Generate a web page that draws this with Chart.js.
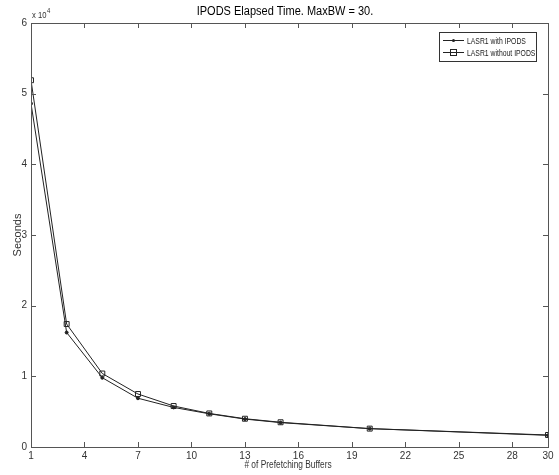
<!DOCTYPE html>
<html>
<head>
<meta charset="utf-8">
<script src="https://cdn.jsdelivr.net/npm/chart.js@4.4.1/dist/chart.umd.min.js"></script>
<style>
  html, body { margin: 0; padding: 0; background: #fff; }
  #wrap { width: 559px; height: 475px; }
</style>
</head>
<body>
<div id="wrap"><canvas id="c" width="559" height="475"></canvas></div>
<script>
// Number of prefetching buffers sampled
const buffers = [1, 3, 5, 7, 9, 11, 13, 15, 20, 30];
// Elapsed time in seconds
const withIpods = [48600, 16200, 9800, 6900, 5600, 4700, 3950, 3450, 2600, 1650];
const withoutIpods = [51900, 17400, 10400, 7500, 5800, 4750, 4000, 3500, 2600, 1700];
// Tick positions
const xTicks = [1, 4, 7, 10, 13, 16, 19, 22, 25, 28, 30];
const yTicks = [0, 10000, 20000, 30000, 40000, 50000, 60000];

const FONT = "'Liberation Sans', Arial, sans-serif";
const AXIS = '#555';
const LINE = '#222';

// Draws text squeezed horizontally to mimic a narrow typeface
function narrowText(ctx, text, x, y, size, squeeze, align, color) {
  ctx.save();
  ctx.font = size + 'px ' + FONT;
  ctx.fillStyle = color;
  ctx.textBaseline = 'middle';
  ctx.textAlign = 'left';
  const w = ctx.measureText(text).width * squeeze;
  let left = x;
  if (align === 'center') left = x - w / 2;
  else if (align === 'right') left = x - w;
  ctx.translate(left, y);
  ctx.scale(squeeze, 1);
  ctx.fillText(text, 0, 0);
  ctx.restore();
}

// Box, inward ticks, title, exponent and legend in the MATLAB style
const framePlugin = {
  id: 'frame',
  afterDraw(chart) {
    const { ctx, chartArea: a, scales: { x, y } } = chart;
    ctx.save();
    ctx.strokeStyle = AXIS;
    ctx.lineWidth = 1;
    ctx.strokeRect(Math.round(a.left) + 0.5, Math.round(a.top) + 0.5,
                   Math.round(a.right - a.left), Math.round(a.bottom - a.top));
    const tl = 5;
    ctx.beginPath();
    xTicks.forEach(v => {
      const px = Math.round(x.getPixelForValue(v)) + 0.5;
      ctx.moveTo(px, a.bottom); ctx.lineTo(px, a.bottom - tl);
      ctx.moveTo(px, a.top); ctx.lineTo(px, a.top + tl);
    });
    yTicks.forEach(v => {
      const py = Math.round(y.getPixelForValue(v)) + 0.5;
      ctx.moveTo(a.left, py); ctx.lineTo(a.left + tl, py);
      ctx.moveTo(a.right, py); ctx.lineTo(a.right - tl, py);
    });
    ctx.stroke();

    // Title
    narrowText(ctx, 'IPODS Elapsed Time. MaxBW = 30.', 285, 12, 12.5, 0.88, 'center', '#000');
    // X axis title
    narrowText(ctx, '# of Prefetching Buffers', 288, 465, 11, 0.76, 'center', '#333');

    // Exponent label
    narrowText(ctx, 'x 10', a.left + 1, 16, 9, 0.85, 'left', '#333');
    narrowText(ctx, '4', a.left + 16, 11, 7, 0.85, 'left', '#333');

    // Legend
    const bx = 439, by = 32, bw = 97, bh = 29;
    ctx.fillStyle = '#fff';
    ctx.fillRect(bx, by, bw, bh);
    ctx.strokeStyle = '#333';
    ctx.strokeRect(bx + 0.5, by + 0.5, bw, bh);
    const rows = [
      { label: 'LASR1 with IPODS', ds: chart.data.datasets[0], yy: 40 },
      { label: 'LASR1 without IPODS', ds: chart.data.datasets[1], yy: 52 }
    ];
    rows.forEach(r => {
      ctx.strokeStyle = LINE;
      ctx.beginPath();
      ctx.moveTo(443, r.yy + 0.5); ctx.lineTo(464, r.yy + 0.5);
      ctx.stroke();
      if (r.ds.pointStyle === 'rect') {
        ctx.strokeRect(450.5, r.yy - 2.5, 6, 6);
      } else {
        ctx.fillStyle = LINE;
        ctx.beginPath(); ctx.arc(453.5, r.yy + 0.5, 1.5, 0, Math.PI * 2); ctx.fill();
      }
      narrowText(ctx, r.label, 467, r.yy + 1, 9.5, 0.72, 'left', '#222');
    });
    ctx.restore();
  }
};

new Chart(document.getElementById('c'), {
  type: 'line',
  data: {
    labels: buffers,
    datasets: [
      {
        label: 'LASR1 with IPODS',
        data: buffers.map((b, i) => ({ x: b, y: withIpods[i] })),
        borderColor: LINE, borderWidth: 1,
        pointStyle: 'circle', pointRadius: 1.5,
        pointBackgroundColor: LINE, pointBorderColor: LINE,
        tension: 0
      },
      {
        label: 'LASR1 without IPODS',
        data: buffers.map((b, i) => ({ x: b, y: withoutIpods[i] })),
        borderColor: LINE, borderWidth: 1,
        pointStyle: 'rect', pointRadius: 3.5,
        pointBackgroundColor: 'rgba(0,0,0,0)', pointBorderColor: LINE, pointBorderWidth: 1,
        tension: 0
      }
    ]
  },
  options: {
    responsive: false,
    animation: false,
    layout: { padding: { top: 23, right: 11, left: 0, bottom: 0 } },
    plugins: { legend: { display: false }, title: { display: false }, tooltip: { enabled: false } },
    scales: {
      x: {
        type: 'linear', min: 1, max: 30,
        afterBuildTicks: s => { s.ticks = xTicks.map(v => ({ value: v })); },
        afterFit: s => { s.height = 28; },
        grid: { display: false, drawTicks: false },
        border: { display: false },
        ticks: { autoSkip: false, maxRotation: 0, padding: 3, color: '#333', font: { family: FONT, size: 10 } }
      },
      y: {
        type: 'linear', min: 0, max: 60000,
        afterBuildTicks: s => { s.ticks = yTicks.map(v => ({ value: v })); },
        afterFit: s => { s.width = 31; },
        grid: { display: false, drawTicks: false },
        border: { display: false },
        ticks: { padding: 4, color: '#333', font: { family: FONT, size: 10 }, callback: v => String(v / 10000) },
        title: { display: true, text: 'Seconds', color: '#333', font: { family: FONT, size: 11 }, padding: { top: 11, bottom: 0 } }
      }
    }
  },
  plugins: [framePlugin]
});
</script>
</body>
</html>
